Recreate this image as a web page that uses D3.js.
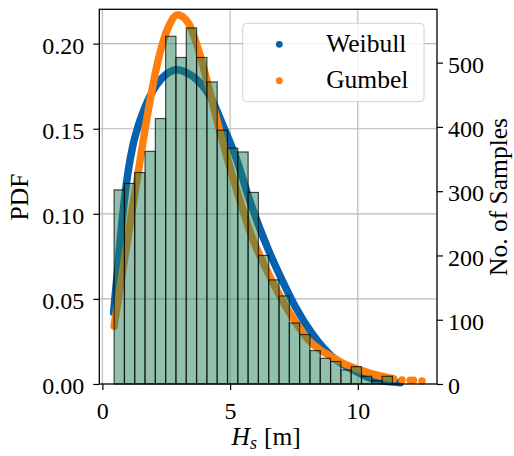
<!DOCTYPE html>
<html>
<head>
<meta charset="utf-8">
<script src="https://cdn.jsdelivr.net/npm/d3@7"></script>
<style>
    body { margin: 0; background: #fff; }
    svg text { font-family: "Liberation Serif", "DejaVu Serif", serif; fill: #000; }
</style>
</head>
<body>
<div id="chart"></div>
<script>
// histogram bins (left edges + last right edge) and counts per bin
const binEdges = [0.46, 0.864, 1.267, 1.671, 2.074, 2.478, 2.881, 3.285, 3.688, 4.092, 4.495,
    4.899, 5.302, 5.706, 6.109, 6.513, 6.916, 7.32, 7.723, 8.127, 8.53, 8.934, 9.337,
    9.741, 10.144, 10.548, 10.951, 11.355];
const counts = [302, 312, 329, 362, 413, 541, 508, 554, 508, 470, 395, 367, 361,
    298, 200, 162, 137, 95, 77, 52, 40, 35, 22, 27, 12, 5, 12];

// fitted pdfs
const weibullX = [0.44, 0.6, 0.8, 1.0, 1.2, 1.4, 1.65, 2.13, 2.5, 2.91, 3.3, 3.7, 4.22, 4.74,
    5.26, 5.72, 6.5, 7.03, 7.55, 8.2, 8.99, 9.83, 10.49, 11.2, 11.66];
const weibullPdf = [0.042, 0.068, 0.1, 0.124, 0.1405, 0.1515, 0.162, 0.176, 0.182, 0.1847, 0.183,
    0.1788, 0.169, 0.1514, 0.1318, 0.11, 0.0788, 0.0612, 0.0455, 0.0298, 0.0161, 0.0082,
    0.0034, 0.0014, 0.0008];

const gumbelX = [0.46, 0.82, 1.15, 1.48, 1.8, 2.19, 2.59, 2.94, 3.37, 3.76, 4.15, 4.54,
    4.94, 5.36, 5.85, 6.37, 6.89, 7.42, 8.07, 8.53, 8.85, 9.31, 10.09, 10.88, 11.4];
const gumbelPdf = [0.034, 0.069, 0.1004, 0.1318, 0.161, 0.1906, 0.21, 0.217, 0.212, 0.1965,
    0.175, 0.152, 0.13, 0.109, 0.0866, 0.069, 0.0534, 0.0396, 0.0259, 0.02, 0.0171, 0.0131,
    0.0082, 0.0047, 0.0031];
// sparse samples at the far tail
const gumbelTailX = [11.73, 12.05, 12.18, 12.51];
const gumbelTailPdf = [0.0024, 0.0022, 0.0022, 0.0018];

const xTicks = [0, 5, 10];
const pdfTicks = [0.00, 0.05, 0.10, 0.15, 0.20];
const countTicks = [0, 100, 200, 300, 400, 500];
const seriesNames = ["Weibull", "Gumbel"];

const width = 514,
    height = 456,
    margin = { left: 99.3, top: 9.3, right: 77, bottom: 72 },
    blue = "#0562b0",
    orange = "#ff7f0e";

const plotW = width - margin.left - margin.right;
const plotH = height - margin.top - margin.bottom;

const xScale = d3.scaleLinear().domain([-0.12, 13.1]).range([0, plotW]);
const yScale = d3.scaleLinear().domain([0, 0.2202]).range([plotH, 0]);
const countScale = d3.scaleLinear().domain([0, 583]).range([plotH, 0]);

const svg = d3.select("#chart").append("svg")
    .attr("width", width)
    .attr("height", height);

const g = svg.append("g")
    .attr("transform", "translate(" + margin.left + "," + margin.top + ")");

// grid
g.append("g").selectAll("line").data(xTicks).join("line")
    .attr("x1", d => xScale(d)).attr("x2", d => xScale(d))
    .attr("y1", 0).attr("y2", plotH)
    .attr("stroke", "#b8b8b8").attr("stroke-width", 1.1);
g.append("g").selectAll("line").data(pdfTicks.slice(1)).join("line")
    .attr("x1", 0).attr("x2", plotW)
    .attr("y1", d => yScale(d)).attr("y2", d => yScale(d))
    .attr("stroke", "#b8b8b8").attr("stroke-width", 1.1);

// pdf curves
const curve = (xs, ys) => d3.line()
    .x(i => xScale(xs[i]))
    .y(i => yScale(ys[i]))
    .curve(d3.curveMonotoneX)(d3.range(xs.length));

g.append("path")
    .attr("d", curve(weibullX, weibullPdf))
    .attr("fill", "none").attr("stroke", blue)
    .attr("stroke-width", 7.5).attr("stroke-linecap", "round");

g.append("path")
    .attr("d", curve(gumbelX, gumbelPdf))
    .attr("fill", "none").attr("stroke", orange)
    .attr("stroke-width", 7.5).attr("stroke-linecap", "round");

g.append("g").selectAll("circle").data(gumbelTailX).join("circle")
    .attr("cx", d => xScale(d))
    .attr("cy", (d, i) => yScale(gumbelTailPdf[i]))
    .attr("r", 3.75)
    .attr("fill", orange);

// histogram on the twin axis
g.append("g").selectAll("rect").data(counts).join("rect")
    .attr("x", (d, i) => xScale(binEdges[i]))
    .attr("width", (d, i) => xScale(binEdges[i + 1]) - xScale(binEdges[i]))
    .attr("y", d => countScale(d))
    .attr("height", d => plotH - countScale(d))
    .attr("fill", "#25825a").attr("fill-opacity", 0.5)
    .attr("stroke", "#000").attr("stroke-opacity", 0.7).attr("stroke-width", 1.2);

// axes
const xAxis = d3.axisBottom(xScale).tickValues(xTicks).tickSize(6).tickPadding(6)
    .tickFormat(d3.format("d"));
const yAxis = d3.axisLeft(yScale).tickValues(pdfTicks).tickSize(6).tickPadding(9)
    .tickFormat(d3.format(".2f"));
const cAxis = d3.axisRight(countScale).tickValues(countTicks).tickSize(6).tickPadding(5)
    .tickFormat(d3.format("d"));

function styleAxis(sel) {
    sel.select(".domain").remove();
    sel.selectAll(".tick line").attr("stroke", "#000").attr("stroke-width", 1.2);
    sel.selectAll(".tick text").attr("font-size", 24).attr("font-family", null);
}

g.append("g").attr("transform", "translate(0," + plotH + ")").call(xAxis).call(styleAxis)
    .selectAll(".tick text").attr("dy", "0.95em");
g.append("g").call(yAxis).call(styleAxis)
    .selectAll(".tick text").attr("dy", "0.4em");
g.append("g").attr("transform", "translate(" + plotW + ",0)").call(cAxis).call(styleAxis)
    .selectAll(".tick text").attr("dy", "0.4em");

// frame
g.append("rect")
    .attr("width", plotW).attr("height", plotH)
    .attr("fill", "none").attr("stroke", "#000").attr("stroke-width", 1.3);

// legend
const legend = svg.append("g").attr("transform", "translate(242.7,23.3)");
legend.append("rect")
    .attr("width", 181.3).attr("height", 78.4).attr("rx", 4)
    .attr("fill", "#fff").attr("fill-opacity", 0.8)
    .attr("stroke", "#d0d0d0");
legend.selectAll("circle").data(seriesNames).join("circle")
    .attr("cx", 36.6)
    .attr("cy", (d, i) => 21 + i * 36.4)
    .attr("r", 3.4)
    .attr("fill", (d, i) => i === 0 ? blue : orange);
legend.selectAll("text").data(seriesNames).join("text")
    .attr("x", 83.5)
    .attr("y", (d, i) => 28.6 + i * 36.4)
    .attr("font-size", 25.5)
    .text(d => d);

// axis titles
svg.append("text")
    .attr("transform", "translate(28,197) rotate(-90)")
    .attr("text-anchor", "middle")
    .attr("font-size", 25.5)
    .text("PDF");

svg.append("text")
    .attr("transform", "translate(507,197) rotate(-90)")
    .attr("text-anchor", "middle")
    .attr("font-size", 25.5)
    .text("No. of Samples");

const xTitle = svg.append("text")
    .attr("x", 231.5).attr("y", 445)
    .attr("font-size", 25.5);
xTitle.append("tspan").attr("font-style", "italic").text("H");
xTitle.append("tspan").attr("font-style", "italic").attr("font-size", 18).attr("dy", 4).text("s");
xTitle.append("tspan").attr("dy", -4).attr("dx", 7).text("[m]");
</script>
</body>
</html>
